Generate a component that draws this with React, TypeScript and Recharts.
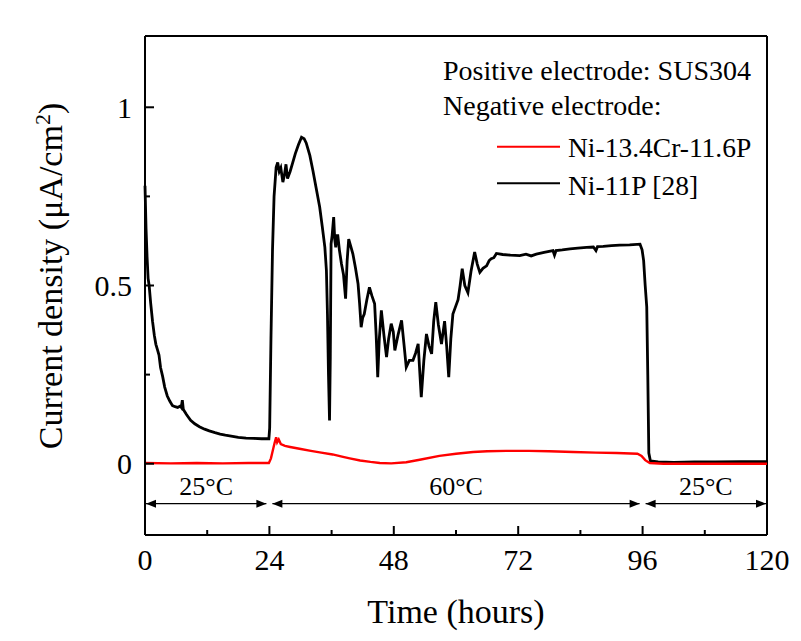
import { LineChart, Line, XAxis, YAxis, ReferenceLine } from 'recharts';

// hours, current density (uA/cm2)
const ni11pTime = [
  0, 0.2, 0.4, 0.6, 0.8, 1.1, 1.45, 1.8, 2.1, 2.4, 2.7, 3.0, 3.4, 3.8, 4.3, 4.8, 5.3, 5.8, 6.3, 6.8, 7.0, 7.2, 7.4, 8.0,
  8.8, 9.6, 10.5, 11.5, 12.4, 13.5, 14.5, 15.5, 16.9, 18, 19.5, 21, 22.5, 23.9,
  24.05, 24.3, 24.6, 24.9, 25.3, 25.6, 25.9, 26.2, 26.6, 26.9, 27.2, 27.5, 28.0, 28.5, 29.0, 29.6, 30.2, 30.7, 31.1,
  31.8, 32.4, 33.0, 33.7, 34.2, 34.7, 35.0, 35.2, 35.4, 35.6, 35.75, 35.9, 36.1, 36.4, 36.6, 36.8, 37.0, 37.2, 37.5,
  37.9, 38.3, 38.7, 39.0, 39.3, 39.7, 40.1, 40.6, 41.1, 41.4, 41.7, 42.0, 42.3, 42.8, 43.3, 43.8, 44.3, 44.6, 44.9,
  45.2, 45.6, 46.1, 46.6, 47.0, 47.5, 47.9, 48.2, 48.8, 49.5, 50.0, 50.4, 51.0, 51.7, 52.2, 52.7, 53.0, 53.3, 53.8,
  54.3, 54.8, 55.3, 55.7, 56.1, 56.6, 57.2, 57.8, 58.2, 58.6, 59.0, 59.4, 59.9, 60.4, 60.8, 61.2, 61.7, 62.3, 62.9,
  63.6, 64.1, 64.6, 65.2, 65.9, 66.4, 66.8, 67.3, 67.8, 69, 70.5, 72.3, 73.5, 74.5, 75.5, 77, 78.7, 79, 79.3, 80.5,
  82, 83.5, 85.2, 86.5, 87.0, 87.3, 88.4, 90, 91.6, 93.5, 95.5, 95.9, 96.2, 96.5, 96.8, 97.0, 97.2, 97.5, 99, 102,
  106, 110, 115, 120,
];
const ni11pValue = [
  0.78, 0.66, 0.58, 0.52, 0.5, 0.45, 0.4, 0.36, 0.335, 0.32, 0.305, 0.27, 0.245, 0.215, 0.19, 0.175, 0.163, 0.16,
  0.158, 0.162, 0.158, 0.178, 0.152, 0.138, 0.122, 0.112, 0.104, 0.097, 0.092, 0.087, 0.083, 0.08, 0.077, 0.074,
  0.072, 0.071, 0.07, 0.07,
  0.1, 0.35, 0.6, 0.75, 0.832, 0.845, 0.82, 0.83, 0.79, 0.81, 0.84, 0.8, 0.82, 0.845, 0.87, 0.895, 0.916, 0.912, 0.9,
  0.865, 0.822, 0.775, 0.72, 0.665, 0.607, 0.542, 0.42, 0.25, 0.121, 0.3, 0.617, 0.64, 0.692, 0.63, 0.607, 0.64,
  0.64, 0.6, 0.561, 0.53, 0.463, 0.57, 0.63, 0.61, 0.589, 0.55, 0.505, 0.45, 0.383, 0.41, 0.42, 0.46, 0.495, 0.47,
  0.449, 0.36, 0.243, 0.35, 0.43, 0.36, 0.299, 0.35, 0.393, 0.37, 0.318, 0.36, 0.402, 0.33, 0.271, 0.29, 0.29, 0.31,
  0.336, 0.26, 0.187, 0.29, 0.364, 0.33, 0.308, 0.4, 0.453, 0.39, 0.336, 0.4, 0.33, 0.243, 0.35, 0.42, 0.44, 0.46,
  0.5, 0.547, 0.5, 0.48, 0.54, 0.594, 0.56, 0.537, 0.548, 0.555, 0.57, 0.575, 0.578, 0.59, 0.587, 0.585, 0.584,
  0.588, 0.583, 0.588, 0.593, 0.598, 0.585, 0.598, 0.6, 0.603, 0.605, 0.607, 0.608, 0.598, 0.609, 0.61, 0.612,
  0.613, 0.614, 0.616, 0.6, 0.57, 0.5, 0.44, 0.25, 0.03, 0.008, 0.005, 0.004, 0.005, 0.005, 0.006, 0.006,
];

const niCrPTime = [
  0, 5, 10, 15, 20, 23.9, 24.3, 24.7, 25.0, 25.3, 25.5, 25.8, 26.2, 27, 28, 29.8, 32, 34, 36.2, 38, 39.5, 41.5, 43.5,
  45.3, 47.5, 50.4, 53, 56.8, 60, 63.3, 66, 69.7, 74, 78, 82.6, 87, 91, 95.0, 95.8, 96.5, 97.4, 100, 105, 110, 115, 120,
];
const niCrPValue = [
  0.002, 0.001, 0.002, 0.001, 0.002, 0.002, 0.015, 0.04, 0.058, 0.074, 0.06, 0.068, 0.055, 0.05, 0.047, 0.042, 0.036,
  0.031, 0.026, 0.02, 0.015, 0.009, 0.005, 0.002, 0.001, 0.004, 0.011, 0.022, 0.028, 0.033, 0.035, 0.036, 0.036,
  0.035, 0.033, 0.031, 0.03, 0.028, 0.022, 0.01, 0.002, 0, 0, 0, 0, 0,
];

const xTicks = [0, 12, 24, 36, 48, 60, 72, 84, 96, 108, 120];
const yTicks = [0, 0.25, 0.5, 0.75, 1];
const yTickLabels: Record<number, string> = { 0: '0', 0.5: '0.5', 1: '1' };

// temperature stages: [start, end, label]
const stages: [number, number, string][] = [
  [0, 24, '25°C'],
  [24, 96, '60°C'],
  [96, 120, '25°C'],
];
const stageY = -0.112;

const ni11p = ni11pTime.map((t, i) => ({ t, v: ni11pValue[i] }));
const niCrP = niCrPTime.map((t, i) => ({ t, v: niCrPValue[i] }));

const FONT = '"Liberation Serif", "Times New Roman", serif';

const XTick = (props: any) => {
  const { x, y, payload } = props;
  const major = payload.value % 24 === 0;
  return (
    <g>
      <line x1={x} y1={y} x2={x} y2={y - (major ? 9 : 5)} stroke="#000" strokeWidth={2} />
      {major && (
        <text x={x} y={y + 35} textAnchor="middle" fontSize={30} fontFamily={FONT} fill="#000">
          {payload.value}
        </text>
      )}
    </g>
  );
};

const YTick = (props: any) => {
  const { x, y, payload } = props;
  const label = yTickLabels[payload.value];
  return (
    <g>
      <line x1={x} y1={y} x2={x + (label ? 9 : 5)} y2={y} stroke="#000" strokeWidth={2} />
      {label && (
        <text x={x - 13} y={y} dy="0.35em" textAnchor="end" fontSize={30} fontFamily={FONT} fill="#000">
          {label}
        </text>
      )}
    </g>
  );
};

const stageShape = (label: string, first: boolean, last: boolean) => (p: any) => {
  const { y1 } = p;
  const x1 = p.x1 + (first ? 1 : 3);
  const x2 = p.x2 - (last ? 1 : 3);
  const L = 10;
  const H = 4;
  return (
    <g>
      <line x1={x1} y1={y1} x2={x2} y2={y1} stroke="#000" strokeWidth={1.2} />
      <polygon points={`${x1},${y1} ${x1 + L},${y1 - H} ${x1 + L},${y1 + H}`} fill="#000" />
      <polygon points={`${x2},${y1} ${x2 - L},${y1 - H} ${x2 - L},${y1 + H}`} fill="#000" />
      <text x={(x1 + x2) / 2} y={y1 - 9} textAnchor="middle" fontSize={26} fontFamily={FONT} fill="#000">
        {label}
      </text>
    </g>
  );
};

export default function App() {
  return (
    <div style={{ position: 'relative', width: 785, height: 625 }}>
      <LineChart width={785} height={625} margin={{ top: 28, right: 26, bottom: 0, left: 0 }}>
        <XAxis
          dataKey="t"
          type="number"
          domain={[0, 120]}
          ticks={xTicks}
          interval={0}
          tick={<XTick />}
          tickLine={false}
          tickSize={0}
          tickMargin={0}
          height={98}
          axisLine={{ stroke: '#000', strokeWidth: 2 }}
        />
        <YAxis
          type="number"
          domain={[-0.2, 1.2]}
          allowDataOverflow
          ticks={yTicks}
          interval={0}
          tick={<YTick />}
          tickLine={false}
          tickSize={0}
          tickMargin={0}
          width={137}
          axisLine={{ stroke: '#000', strokeWidth: 2 }}
        />
        <ReferenceLine y={1.2} stroke="#000" strokeWidth={2} />
        <ReferenceLine x={120} stroke="#000" strokeWidth={2} />
        {stages.map(([a, b, label], i) => (
          <ReferenceLine
            key={i}
            segment={[{ x: a, y: stageY }, { x: b, y: stageY }]}
            shape={stageShape(label, i === 0, i === stages.length - 1)}
          />
        ))}
        <Line data={ni11p} dataKey="v" stroke="#000" strokeWidth={2.8} dot={false} isAnimationActive={false} />
        <Line data={niCrP} dataKey="v" stroke="#ff0000" strokeWidth={2.4} dot={false} isAnimationActive={false} />
      </LineChart>
      <svg
        width={785}
        height={625}
        style={{ position: 'absolute', left: 0, top: 0, pointerEvents: 'none' }}
        fontFamily={FONT}
        fill="#000"
      >
        <text x={435} y={72} fontSize={28}>Positive electrode: SUS304</text>
        <text x={435} y={107} fontSize={28}>Negative electrode:</text>
        <line x1={489} y1={138.7} x2={552} y2={138.7} stroke="#ff0000" strokeWidth={2} />
        <text x={560} y={148.7} fontSize={27.5}>Ni-13.4Cr-11.6P</text>
        <line x1={489} y1={175.3} x2={552} y2={175.3} stroke="#000" strokeWidth={2} />
        <text x={560} y={187} fontSize={27.5}>Ni-11P [28]</text>
        <text x={448} y={615} fontSize={34} textAnchor="middle">Time (hours)</text>
        <text x={54} y={268} fontSize={34} textAnchor="middle" transform="rotate(-90 54 268)">
          Current density (μA/cm<tspan dy={-12} fontSize={22}>2</tspan>
          <tspan dy={12}>)</tspan>
        </text>
      </svg>
    </div>
  );
}
